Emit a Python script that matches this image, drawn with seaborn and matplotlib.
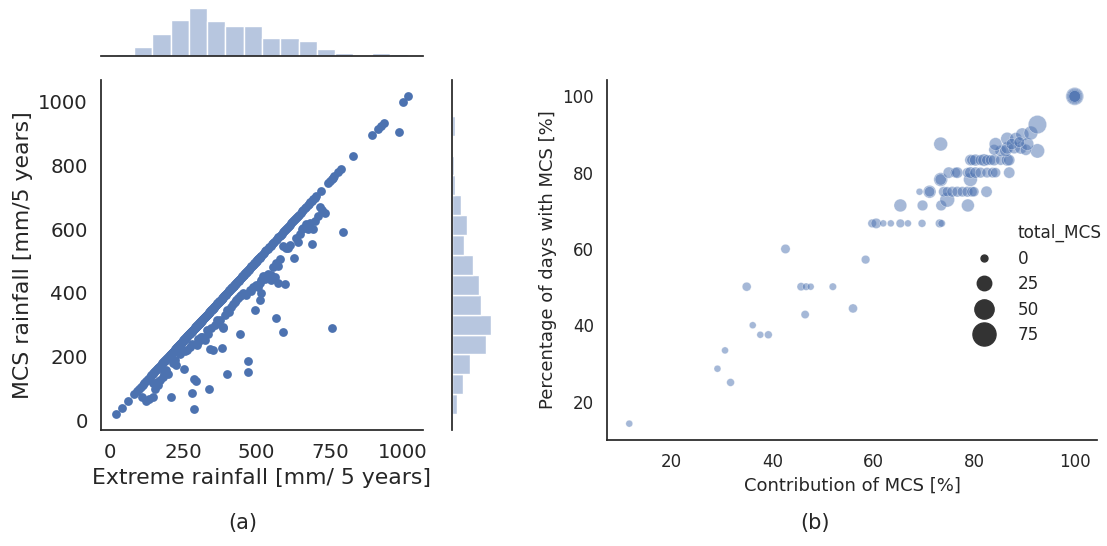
import numpy as np
import pandas as pd
import matplotlib
matplotlib.use("Agg")
import matplotlib.pyplot as plt
import seaborn as sns
from matplotlib.lines import Line2D

# ---------------- Panel (a) data ----------------
# grid cells where all extreme rainfall came from MCS (x == y)
diag_rain = [20, 40, 61,
             84, 92, 98, 105, 112, 118, 124, 130, 136, 142,
             146, 149, 152, 155, 157, 160, 163, 166, 168, 171, 174, 177, 179, 182, 185, 188, 190, 193, 196, 199, 201, 204, 206,
             208, 209, 211, 212, 214, 215, 216, 218, 219, 221, 222, 223, 225, 226, 228, 229, 230, 232, 233, 235,
             236, 237, 239, 240, 242, 243, 244, 246, 247, 249, 250, 251, 253, 254, 256, 257, 258, 260, 261, 263,
             264, 265, 267, 268,
             270, 271, 272, 273, 274, 276, 277, 278, 279, 280, 281, 282, 283, 284, 285, 286, 288, 289, 290, 291,
             292, 293, 294, 295, 296, 297, 298, 300, 301, 302, 303, 304, 305, 306, 307, 308, 309, 310, 312, 313,
             314, 315, 316, 317, 318, 319, 320, 321, 322, 324, 325, 326, 327, 328, 329, 330, 331,
             332, 334, 335, 337, 338, 340, 341, 343, 345, 346, 348, 349, 351, 352, 354, 356, 357, 359, 360, 362,
             363, 365, 367, 368, 370, 371, 373, 374, 376, 378, 379, 381, 382, 384, 385, 387, 389, 390, 392, 393,
             395, 397, 399, 401, 403, 405, 406, 408, 410, 412, 414, 416, 418, 420, 422, 423, 425, 427, 429, 431,
             433, 435, 437, 439, 440, 442, 444, 446, 448, 450, 452, 454, 456,
             457, 459, 461, 463, 465, 467, 469, 471, 473, 475, 477, 479, 481, 483, 485, 487, 489, 491, 493, 495,
             497, 499, 501, 503, 505, 507, 509, 511, 513, 515, 517,
             521, 525, 530, 534, 539, 543, 548, 552, 557, 561, 566, 570, 575, 579,
             583, 586, 590, 593, 597, 600, 604, 607, 611, 614, 618, 621, 625, 628, 632, 635, 639, 642,
             646, 651, 656, 660, 665, 670, 675, 680, 684, 689, 694, 699, 704,
             719, 745, 751, 756, 761, 766,
             778, 790, 828,
             895, 915, 925, 934,
             1000, 1018]

# grid cells with part of the extreme rainfall from non-MCS systems
off_extreme = [111, 125, 134, 146, 148, 155, 160, 165, 170, 182, 186, 193, 200, 208, 215, 222, 227, 232, 239, 246,
               253, 258, 264, 273, 280, 282, 288, 293, 288, 296, 300, 301, 307, 310, 315, 320, 324, 330, 335, 339,
               341, 345, 352, 358, 364, 370, 375, 381, 386, 386, 392, 398, 401, 407, 415, 420, 426, 432, 438, 443,
               443, 449, 455, 460, 466, 472, 472, 477, 483, 489, 494, 500, 505, 511, 511, 515, 517, 523, 529, 534,
               540, 548, 551, 557, 562, 566, 568, 574, 575, 580, 591, 591, 597, 602, 608, 615, 628, 636, 642, 648,
               654, 660, 670, 676, 682, 688, 693, 700, 710, 716, 722, 733, 756, 795, 987]
off_mcs = [74, 62, 68, 74, 116, 100, 120, 112, 126, 137, 150, 158, 145, 74, 180, 189, 173, 215, 210, 225,
           161, 218, 222, 231, 240, 86, 131, 124, 37, 236, 255, 247, 252, 262, 262, 258, 252, 284, 270, 100,
           223, 290, 221, 300, 315, 305, 315, 226, 289, 294, 330, 347, 145, 340, 357, 365, 372, 379, 385, 271,
           389, 392, 400, 396, 394, 187, 152, 410, 405, 420, 347, 425, 420, 379, 431, 400, 440, 452, 445, 452,
           460, 440, 457, 480, 450, 321, 494, 484, 430, 505, 547, 279, 428, 540, 542, 550, 510, 573, 560, 584,
           599, 605, 615, 600, 620, 554, 599, 625, 641, 668, 660, 652, 289, 591, 904]

# ---------------- Panel (b) data ----------------
contrib = [11.6, 29.1, 30.6, 31.7, 36.1, 37.6, 39.2, 34.9, 42.6, 45.7, 46.7, 47.6, 52.0, 46.5, 56.0, 58.5,
           59.8, 60.6, 62.0, 63.5, 65.4, 66.9, 69.7, 73.2, 73.6,
           65.4, 69.8, 73.5, 78.8, 74.7,
           69.2, 71.2, 71.2, 74.0, 74.7, 75.7, 76.7, 77.7, 78.7, 79.6, 80.0, 82.5,
           73.4, 73.4, 79.3,
           75.0, 76.3, 76.7, 78.7, 79.3, 80.3, 81.3, 82.6, 83.7, 84.3, 87.0,
           79.3, 79.6, 80.3, 81.3, 82.0, 82.6, 83.3, 84.0, 85.3, 86.6, 87.0,
           85.3, 86.3, 92.6, 84.0, 86.6, 88.0, 89.3, 90.3,
           73.4, 84.3, 86.6, 88.3, 89.6, 90.6, 87.5, 89.0,
           91.3, 92.6, 100.0, 100.0, 100.0, 100.0]
pct_days = [14.2, 28.6, 33.4, 25.0, 40.0, 37.5, 37.5, 50.1, 60.0, 50.1, 50.1, 50.1, 50.1, 42.8, 44.4, 57.2,
            66.7, 66.7, 66.7, 66.7, 66.7, 66.7, 66.7, 66.7, 66.7,
            71.4, 71.4, 71.4, 71.4, 72.9,
            75.0, 75.0, 75.0, 75.0, 75.0, 75.0, 75.0, 75.0, 75.0, 75.0, 75.0, 75.0,
            78.2, 78.2, 78.2,
            80.0, 80.0, 80.0, 80.0, 80.0, 80.0, 80.0, 80.0, 80.0, 80.0, 80.0,
            83.3, 83.3, 83.3, 83.3, 83.3, 83.3, 83.3, 83.3, 83.3, 83.3, 83.3,
            85.7, 85.7, 85.7, 86.0, 86.5, 86.5, 86.5, 86.0,
            87.5, 87.5, 88.9, 88.9, 90.0, 87.5, 87.5, 88.0,
            90.4, 92.6, 100.0, 100.0, 100.0, 100.0]
total_mcs = [0, 0, 0, 2, 0, 0, 2, 5, 6, 3, 1, 0, 1, 3, 5, 4,
             4, 9, 0, 0, 4, 0, 2, 4, 1,
             18, 10, 10, 18, 26,
             0, 18, 9, 9, 8, 10, 10, 9, 10, 9, 8, 12,
             22, 12, 22,
             12, 9, 12, 8, 13, 12, 10, 9, 9, 8, 12,
             12, 9, 14, 10, 16, 10, 9, 12, 9, 14, 12,
             12, 14, 24, 10, 16, 14, 16, 12,
             22, 18, 18, 16, 19, 18, 12, 10,
             22, 45, 42, 32, 22, 14]

size_levels = [0, 25, 50, 75]

# ---------------- style ----------------
sns.set_theme(style="white")
plt.rcParams["font.family"] = ["DejaVu Sans"]
blue = "#4C72B0"

W, H = 1107, 546
fig = plt.figure(figsize=(W / 100, H / 100), dpi=100)


def box(x0, y0, x1, y1):
    return [x0 / W, 1 - y1 / H, (x1 - x0) / W, (y1 - y0) / H]


ax_main = fig.add_axes(box(101, 80, 423, 430))
ax_top = fig.add_axes(box(101, 5.5, 423, 56), sharex=ax_main)
ax_right = fig.add_axes(box(452, 80, 493, 430), sharey=ax_main)
ax_b = fig.add_axes(box(607, 80, 1097, 440))

# ---------------- Panel (a) ----------------
df_a = pd.DataFrame({"extreme": diag_rain + off_extreme, "mcs": diag_rain + off_mcs})
sns.scatterplot(data=df_a, x="extreme", y="mcs", ax=ax_main, color=blue, s=40,
                linewidth=0, alpha=1)
sns.histplot(data=df_a, x="extreme", bins=16, ax=ax_top, color=blue, alpha=0.4,
             edgecolor="white", linewidth=1)
sns.histplot(data=df_a, y="mcs", bins=16, ax=ax_right, color=blue, alpha=0.4,
             edgecolor="white", linewidth=1)

lo = min(df_a["extreme"].min(), df_a["mcs"].min())
hi = max(df_a["extreme"].max(), df_a["mcs"].max())
pad = 0.05 * (hi - lo)
ax_main.set_xlim(lo - pad, hi + pad)
ax_main.set_ylim(lo - pad, hi + pad)
ax_main.set_xticks([0, 250, 500, 750, 1000])
ax_main.set_yticks([0, 200, 400, 600, 800, 1000])
ax_main.set_xlabel("Extreme rainfall [mm/ 5 years]", fontsize=15.8)
ax_main.set_ylabel("MCS rainfall [mm/5 years]", fontsize=15.8)
ax_main.tick_params(labelsize=14.2)
sns.despine(ax=ax_main)

for ax in (ax_top, ax_right):
    ax.set_xlabel("")
    ax.set_ylabel("")
    ax.tick_params(labelbottom=False, labelleft=False, bottom=False, left=False)
sns.despine(ax=ax_top, left=True)
sns.despine(ax=ax_right, bottom=True)

# ---------------- Panel (b) ----------------
s_min, s_max = 25, 360
df_b = pd.DataFrame({"contrib": contrib, "pct": pct_days, "total_MCS": total_mcs})
sns.scatterplot(data=df_b, x="contrib", y="pct", size="total_MCS", sizes=(s_min, s_max),
                size_norm=(0, 100), color=blue, alpha=0.5, edgecolor="white",
                ax=ax_b, legend=False)
ax_b.set_xlabel("Contribution of MCS [%]", fontsize=13)
ax_b.set_ylabel("Percentage of days with MCS [%]", fontsize=13)
ax_b.tick_params(labelsize=12)
sns.despine(ax=ax_b)

handles = [Line2D([], [], linestyle="none", marker=None)]
labels = ["total_MCS"]
for v in size_levels:
    handles.append(Line2D([], [], linestyle="none", marker="o", color=".2",
                          markersize=np.sqrt(s_min + (s_max - s_min) * v / 100)))
    labels.append(str(v))
ax_b.legend(handles, labels, frameon=False, loc="center left",
            bbox_to_anchor=(960 / W, 1 - 284 / H), bbox_transform=fig.transFigure,
            borderaxespad=0, handletextpad=1.0, fontsize=12.2, labelspacing=0.45)

fig.text(243 / W, 1 - 523 / H, "(a)", ha="center", va="center", fontsize=15)
fig.text(815 / W, 1 - 523 / H, "(b)", ha="center", va="center", fontsize=15)

fig.savefig("out.png", dpi=100)
